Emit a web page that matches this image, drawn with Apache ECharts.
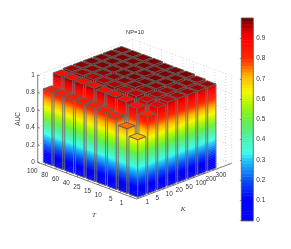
<!DOCTYPE html>
<html><head><meta charset="utf-8">
<script src="https://cdn.jsdelivr.net/npm/echarts@6/dist/echarts.min.js"></script>
<style>html,body{margin:0;background:#fff}#c{width:291px;height:249px;filter:blur(0.4px)}</style>
</head><body><div id="c"></div>
<script>
const tLabels=['100','80','60','40','25','15','10','5','1'];
const kLabels=['1','5','10','20','50','100','200','300'];
const zTicks=[0,0.2,0.4,0.6,0.8,1];
// rows: T (100..1); columns: K (1..300)
const auc=[
[0.84,0.98,0.99,0.99,0.99,0.99,0.99,0.99],
[0.84,0.98,0.99,0.99,0.99,0.99,0.99,0.99],
[0.84,0.98,0.99,0.99,0.99,0.99,0.99,0.99],
[0.84,0.98,0.99,0.99,0.99,0.99,0.99,0.99],
[0.84,0.97,0.99,0.99,0.99,0.99,0.99,0.98],
[0.83,0.97,0.98,0.99,0.98,0.98,0.98,0.98],
[0.81,0.96,0.98,0.98,0.98,0.98,0.98,0.98],
[0.74,0.93,0.96,0.97,0.97,0.97,0.97,0.97],
[0.66,0.88,0.94,0.96,0.96,0.96,0.96,0.96]];
const topShade=[
[0.84,0.88,0.97,0.98,0.99,0.99,0.99,0.99],
[0.84,0.88,0.97,0.98,0.99,0.99,0.99,0.99],
[0.84,0.88,0.96,0.98,0.99,0.99,0.99,0.99],
[0.84,0.88,0.96,0.98,0.99,0.99,0.99,0.99],
[0.84,0.88,0.96,0.98,0.99,0.99,0.99,0.99],
[0.83,0.88,0.95,0.98,0.99,0.99,0.99,0.99],
[0.81,0.87,0.95,0.97,0.98,0.99,0.99,0.99],
[0.76,0.86,0.94,0.96,0.97,0.98,0.98,0.98],
[0.71,0.81,0.92,0.95,0.96,0.97,0.97,0.97]];
const jetStops=[[0,'#0000ff'],[0.11,'#0000ff'],[0.2,'#0a50f5'],[0.3,'#20c8f8'],[0.34,'#40ffe8'],[0.42,'#50f0a0'],[0.5,'#68f040'],[0.58,'#b0f800'],[0.64,'#f8f800'],[0.72,'#ffb000'],[0.8,'#ff2800'],[0.9,'#ff0000'],[0.94,'#d80000'],[1,'#680000']];
const hex=s=>[1,3,5].map(i=>parseInt(s.substr(i,2),16));
function jet(v){v=Math.max(0,Math.min(1,v));
 for(let i=1;i<jetStops.length;i++){if(v<=jetStops[i][0]){const a=jetStops[i-1],b=jetStops[i],f=(v-a[0])/(b[0]-a[0]);const A=hex(a[1]),B=hex(b[1]);
 return 'rgb('+A.map((c,j)=>Math.round(c+(B[j]-c)*f)).join(',')+')';}}
 return jetStops[jetStops.length-1][1];}
// view: projected plot plane uses x/y value axes matching page pixels
const P0=[136.7,199], TV=[-10.7,-3.96], KV=[10.0,-3.76], ZV=87.4, T0=0.166, K0=0.278, BW=0.82, NT=9.25, NK=9.5;
function proj(t,k,z){return [P0[0]+TV[0]*t+KV[0]*k, P0[1]+TV[1]*t+KV[1]*k-ZV*z];}
const W=291,H=249;
const edge='#707070';
const cells=[];
for(let r=0;r<tLabels.length;r++)for(let c=kLabels.length-1;c>=0;c--)cells.push([r,c,auc[r][c],topShade[r][c]]);
function face(api,kids,A,B,z){
 const n=Math.ceil(z*48);
 for(let i=0;i<n;i++){
  const z0=z*i/n,z1=z*(i+1)/n,col=jet((z0+z1)/2);
  kids.push({type:'polygon',shape:{points:[proj(A[0],A[1],z0),proj(B[0],B[1],z0),proj(B[0],B[1],z1),proj(A[0],A[1],z1)].map(p=>api.coord(p))},style:{fill:col,stroke:col,lineWidth:0.4}});
 }
 kids.push({type:'polygon',shape:{points:[proj(A[0],A[1],0),proj(B[0],B[1],0),proj(B[0],B[1],z),proj(A[0],A[1],z)].map(p=>api.coord(p))},style:{fill:null,stroke:edge,lineWidth:0.9}});
}
const barSeries={type:'custom',coordinateSystem:'cartesian2d',xAxisIndex:0,yAxisIndex:0,data:cells,clip:false,
 renderItem(params,api){
  const r=api.value(0),c=api.value(1),z=api.value(2),sh=api.value(3);
  const t=tLabels.length-1-r+T0, k=c+K0;
  const a=[t,k],b=[t+BW,k],d=[t,k+BW],e=[t+BW,k+BW];
  const kids=[];
  face(api,kids,a,b,z);face(api,kids,a,d,z);
  kids.push({type:'polygon',shape:{points:[a,b,e,d].map(p=>api.coord(proj(p[0],p[1],z)))},style:{fill:jet(sh),stroke:'#5c5c5c',lineWidth:0.9}});
  return {type:'group',children:kids};
 }};
const axisSeries={type:'custom',coordinateSystem:'cartesian2d',xAxisIndex:0,yAxisIndex:0,data:[0],clip:false,z:1,
 renderItem(params,api){
  const kids=[];
  const dot={stroke:'#b5b5b5',lineWidth:0.6,lineDash:[1,2],fill:null};
  const solid={stroke:'#444',lineWidth:0.7,fill:null};
  const line=(p,q,st)=>{const A=api.coord(p),B=api.coord(q);kids.push({type:'line',shape:{x1:A[0],y1:A[1],x2:B[0],y2:B[1]},style:st});};
  zTicks.forEach(z=>{line(proj(NT,0,z),proj(NT,NK,z),dot);line(proj(NT,NK,z),proj(0,NK,z),dot);});
  line(proj(0,NK,0),proj(0,NK,1),dot);line(proj(NT,NK,0),proj(NT,NK,1),dot);
  for(let i=0;i<tLabels.length;i++){const t=T0+i+BW/2;line(proj(t,NK,0),proj(t,NK,1),dot);line(proj(t,0,0),proj(t,NK,0),dot);
   const p=proj(t,0,0);line(p,[p[0]+0.8,p[1]-1.6],solid);}
  for(let i=0;i<kLabels.length;i++){const k=K0+i+BW/2;line(proj(NT,k,0),proj(NT,k,1),dot);line(proj(0,k,0),proj(NT,k,0),dot);
   const p=proj(0,k,0);line(p,[p[0]-0.8,p[1]-1.6],solid);}
  line(proj(NT,0,0),proj(NT,0,1),solid);line(proj(NT,0,0),proj(0,0,0),solid);line(proj(0,0,0),proj(0,NK,0),solid);
  zTicks.forEach(z=>{const p=proj(NT,0,z);line(p,[p[0]+2,p[1]+0.7],solid);});
  return {type:'group',children:kids};
 }};
const txt=(x,y,s,o)=>({type:'text',x,y,style:Object.assign({text:s,font:'6.4px "Liberation Sans"',fill:'#333',textAlign:'center',textVerticalAlign:'middle'},o||{}),silent:true});
const graphics=[];
tLabels.forEach((s,i)=>{const p=proj(T0+(8-i)+BW/2,0,0);graphics.push(txt(p[0]-7.3,p[1]+6.5,s,{textAlign:'right'}));});
kLabels.forEach((s,i)=>{const p=proj(0,K0+i+BW/2,0);graphics.push(txt(p[0]+2,p[1]+5.6,s,{textAlign:'left'}));});
zTicks.forEach(z=>{const p=proj(NT,0,z);graphics.push(txt(p[0]-3,p[1],String(z),{textAlign:'right'}));});
graphics.push(txt(135,32,'NP=10',{font:'5.8px "Liberation Sans"'}));
graphics.push(Object.assign(txt(18,119,'AUC'),{rotation:Math.PI/2}));
graphics.push(txt(94,215,'T',{font:'italic 7px "Liberation Serif"'}));
graphics.push(txt(183,209,'K',{font:'italic 7px "Liberation Serif"'}));
const bandLevels=[];for(let i=0;i<64;i++)bandLevels.push(i);
const colorbar={type:'custom',coordinateSystem:'cartesian2d',xAxisIndex:1,yAxisIndex:1,data:bandLevels,
 renderItem(params,api){const i=api.value(0);const A=api.coord([0,i/64]),B=api.coord([1,(i+1)/64]);
  return {type:'rect',shape:{x:A[0],y:B[1],width:B[0]-A[0],height:A[1]-B[1]+0.5},style:{fill:jet((i+0.5)/64)}};}};
const chart=echarts.init(document.getElementById('c'),null,{renderer:'canvas'});
chart.setOption({animation:false,backgroundColor:'#fff',
 grid:[{left:0,top:0,width:W,height:H},{left:241.3,top:18,width:12,height:202.7,show:true,borderColor:'#555',borderWidth:0.8,backgroundColor:'transparent',z:5}],
 xAxis:[{type:'value',min:0,max:W,show:false,gridIndex:0},{type:'value',min:0,max:1,show:false,gridIndex:1}],
 yAxis:[{type:'value',min:0,max:H,inverse:true,show:false,gridIndex:0},
  {type:'value',min:0,max:1,interval:0.1,gridIndex:1,position:'right',
   axisLine:{show:false},splitLine:{show:false},axisTick:{show:true,inside:true,length:1.5,lineStyle:{color:'#555',width:0.6}},
   axisLabel:{margin:3,fontSize:6.4,fontFamily:'Liberation Sans',color:'#333',showMaxLabel:false,formatter:v=>String(+v.toFixed(1))}}],
 series:[axisSeries,barSeries,colorbar],
 graphic:graphics});
</script></body></html>
